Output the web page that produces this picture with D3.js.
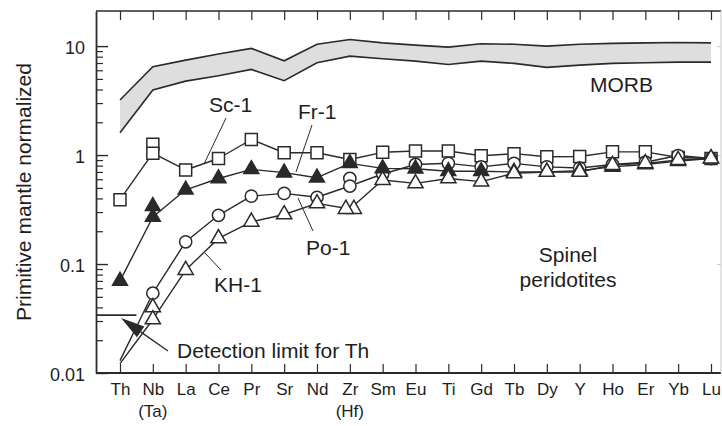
<!DOCTYPE html>
<html>
<head>
<meta charset="utf-8">
<script src="https://cdn.jsdelivr.net/npm/d3@7"></script>
<style>
  body { margin: 0; background: #fff; }
  svg { display: block; font-family: "Liberation Sans", Arial, Helvetica, sans-serif; }
</style>
</head>
<body>
<svg id="chart" width="722" height="426"></svg>
<script>
// Trace elements, ordered by incompatibility
const elements = ["Th", "Nb", "La", "Ce", "Pr", "Sr", "Nd", "Zr", "Sm", "Eu",
                  "Ti", "Gd", "Tb", "Dy", "Y", "Ho", "Er", "Yb", "Lu"];
// Second-row labels for the element pairs plotted in one column
const subLabels = { Nb: "(Ta)", Zr: "(Hf)" };

// MORB field (primitive-mantle normalized), upper and lower bounds
const morbUpper = [3.2, 6.46, 7.44, 8.45, 9.52, 7.33, 10.4, 11.5, 10.7, 10.2,
                   9.79, 10.5, 10.4, 10.0, 10.4, 10.6, 10.7, 10.8, 10.7];
const morbLower = [1.6, 3.95, 4.77, 5.34, 6.11, 4.81, 7.03, 8.09, 7.65, 7.28,
                   6.79, 7.28, 6.94, 6.38, 6.69, 6.94, 7.03, 7.13, 7.13];

// Spinel peridotite samples
const sc1 = [0.39, 1.04, 0.73, 0.93, 1.39, 1.05, 1.05, 0.91, 1.06, 1.09,
             1.09, 0.985, 1.03, 0.964, 0.97, 1.07, 1.07, 0.95, 0.93];
const fr1 = [0.07, 0.27, 0.48, 0.61, 0.74, 0.69, 0.62, 0.84, 0.755, 0.75,
             0.71, 0.71, 0.70, 0.70, 0.72, 0.78, 0.82, 0.88, 0.93];
const po1 = [0.013, 0.054, 0.16, 0.28, 0.42, 0.445, 0.41, 0.52, 0.67, 0.82,
             0.84, 0.78, 0.84, 0.78, 0.76, 0.82, 0.86, 0.99, 0.93];
const kh1 = [0.0122, 0.031, 0.088, 0.172, 0.244, 0.285, 0.36, 0.32, 0.59, 0.55,
             0.61, 0.57, 0.68, 0.70, 0.70, 0.81, 0.84, 0.90, 0.93];

// Ta and Hf values, plotted in the Nb and Zr columns
const sc1Pair = { Nb: 1.26 };
const fr1Pair = { Nb: 0.34 };
const po1Pair = { Zr: 0.61 };
const kh1Pair = { Nb: 0.040, Zr: 0.32 };

// Th below detection limit: line only, no symbol
const belowDetection = { "Po-1": ["Th"], "KH-1": ["Th"] };
const detectionLimitTh = 0.034;

const yMajorTicks = [0.01, 0.1, 1, 10];
const yMajorLabels = ["0.01", "0.1", "1", "10"];

// ---------------------------------------------------------------------------
const svg = d3.select("#chart");
const ink = "#2a2a2a";
const frame = { left: 96, right: 721, top: 11, bottom: 373 };

const x = d3.scalePoint().domain(elements).range([120, 711]);
const y = d3.scaleLog().domain([0.01, 21]).range([frame.bottom, frame.top]);

const samples = [
  { name: "Sc-1", values: sc1, pair: sc1Pair, shape: "square" },
  { name: "Fr-1", values: fr1, pair: fr1Pair, shape: "filledTriangle" },
  { name: "Po-1", values: po1, pair: po1Pair, shape: "circle" },
  { name: "KH-1", values: kh1, pair: kh1Pair, shape: "openTriangle" }
];
// symbol stacking order (bottom to top)
const markerOrder = ["Sc-1", "Po-1", "Fr-1", "KH-1"];
// side-by-side offset where a pair plots at the same level
const pairShift = { "KH-1": { Zr: [-4, 4] } };

// ---- MORB field ----
const morbArea = d3.area()
  .x((d, i) => x(elements[i]))
  .y0((d, i) => y(morbLower[i]))
  .y1((d, i) => y(morbUpper[i]));
svg.append("path").datum(morbUpper).attr("d", morbArea)
  .attr("fill", "#dedede").attr("stroke", "none");
const edge = d3.line().x((d, i) => x(elements[i])).y(d => y(d));
[morbUpper, morbLower].forEach(arr => {
  svg.append("path").datum(arr).attr("d", edge)
    .attr("fill", "none").attr("stroke", ink).attr("stroke-width", 1.6)
    .attr("stroke-linejoin", "miter");
});

// ---- frame & axes ----
svg.append("line").attr("x1", frame.left).attr("x2", frame.right)
  .attr("y1", frame.top).attr("y2", frame.top)
  .attr("stroke", ink).attr("stroke-width", 1.6);
svg.append("line").attr("x1", frame.left).attr("x2", frame.right)
  .attr("y1", frame.bottom).attr("y2", frame.bottom)
  .attr("stroke", ink).attr("stroke-width", 1.8);
svg.append("line").attr("x1", frame.right).attr("x2", frame.right)
  .attr("y1", frame.top).attr("y2", frame.bottom)
  .attr("stroke", "#c8c8c8").attr("stroke-width", 1);

// left axis: inward major and minor ticks
const minorTicks = [];
[0.01, 0.1, 1].forEach(dec => { for (let k = 2; k <= 9; k++) minorTicks.push(dec * k); });

const leftMinor = svg.append("g").attr("transform", `translate(${frame.left},0)`)
  .call(d3.axisLeft(y).tickValues(minorTicks).tickSize(-7).tickSizeOuter(0).tickFormat(""));
leftMinor.select(".domain").remove();
leftMinor.selectAll("line").attr("stroke", ink).attr("stroke-width", 1.2);

const leftMajor = svg.append("g").attr("transform", `translate(${frame.left},0)`)
  .call(d3.axisLeft(y).tickValues(yMajorTicks).tickSize(-12).tickSizeOuter(0)
    .tickPadding(11).tickFormat((d, i) => yMajorLabels[i]));
leftMajor.select(".domain").attr("stroke", ink).attr("stroke-width", 1.8);
leftMajor.selectAll("line").attr("stroke", ink).attr("stroke-width", 1.4);
leftMajor.selectAll("text").attr("font-size", 18).attr("fill", "#1e1e1e")
  .attr("font-family", "Liberation Sans, Arial, sans-serif").attr("dy", "0.42em");

// right axis: faint decade ticks
const rightAx = svg.append("g").attr("transform", `translate(${frame.right},0)`)
  .call(d3.axisRight(y).tickValues([0.1, 1, 10]).tickSize(-4).tickSizeOuter(0).tickFormat(""));
rightAx.select(".domain").remove();
rightAx.selectAll("line").attr("stroke", "#c8c8c8");

// bottom axis with element labels
const bottomAx = svg.append("g").attr("transform", `translate(0,${frame.bottom})`)
  .call(d3.axisBottom(x).tickSize(-9).tickSizeOuter(0).tickPadding(10));
bottomAx.select(".domain").remove();
bottomAx.selectAll("line").attr("stroke", ink).attr("stroke-width", 1.2);
bottomAx.selectAll("text").attr("font-size", 17).attr("fill", "#1e1e1e")
  .attr("font-family", "Liberation Sans, Arial, sans-serif");

svg.append("g").selectAll("text")
  .data(Object.keys(subLabels)).join("text")
  .attr("x", d => x(d)).attr("y", 417)
  .attr("text-anchor", "middle").attr("font-size", 17).attr("fill", "#1e1e1e")
  .text(d => subLabels[d]);

// top axis: downward ticks
const topAx = svg.append("g").attr("transform", `translate(0,${frame.top})`)
  .call(d3.axisTop(x).tickSize(-9).tickSizeOuter(0).tickFormat(""));
topAx.select(".domain").remove();
topAx.selectAll("line").attr("stroke", ink).attr("stroke-width", 1.2);

// y axis title
svg.append("text")
  .attr("transform", "translate(31,192) rotate(-90)")
  .attr("text-anchor", "middle").attr("font-size", 21).attr("fill", "#1e1e1e")
  .text("Primitive mantle normalized");

// ---- sample patterns ----
const line = d3.line().x((d, i) => x(elements[i])).y(d => y(d));
samples.forEach(s => {
  svg.append("path").datum(s.values).attr("d", line)
    .attr("fill", "none").attr("stroke", ink).attr("stroke-width", 1.4)
    .attr("stroke-linejoin", "round");
});

const symbolFor = {
  square: d3.symbol(d3.symbolSquare, 144)(),
  circle: d3.symbol(d3.symbolCircle, 118)(),
  filledTriangle: d3.symbol(d3.symbolTriangle, 96)(),
  openTriangle: d3.symbol(d3.symbolTriangle, 100)()
};

markerOrder.forEach(name => {
  const s = samples.find(d => d.name === name);
  const skip = belowDetection[name] || [];
  const pts = [];
  s.values.forEach((v, i) => {
    const el = elements[i];
    if (skip.includes(el)) return;
    const sh = (pairShift[name] && pairShift[name][el]) || [0, 0];
    if (s.pair[el] !== undefined) {
      pts.push({ el, v: s.pair[el], dx: sh[1] });
    }
    pts.push({ el, v, dx: sh[0] });
  });
  svg.append("g").selectAll("path").data(pts).join("path")
    .attr("d", symbolFor[s.shape])
    .attr("transform", d => `translate(${x(d.el) + d.dx},${y(d.v)})`)
    .attr("fill", s.shape === "filledTriangle" ? ink : "#fff")
    .attr("stroke", ink).attr("stroke-width", 1.5)
    .attr("stroke-linejoin", "miter");
});

// ---- annotations ----
const note = (txt, xx, yy, anchor = "start") =>
  svg.append("text").attr("x", xx).attr("y", yy).attr("text-anchor", anchor)
    .attr("font-size", 21).attr("fill", "#1e1e1e").text(txt);
const leader = (x1, y1, x2, y2) =>
  svg.append("line").attr("x1", x1).attr("y1", y1).attr("x2", x2).attr("y2", y2)
    .attr("stroke", ink).attr("stroke-width", 1);

note("Sc-1", 209, 112);
leader(226, 118, 204, 164);
note("Fr-1", 298, 119);
leader(312, 125, 296, 172);
note("Po-1", 306, 255);
leader(313, 231, 298, 198);
note("KH-1", 214, 292);
leader(221, 270, 205, 253);
note("MORB", 590, 92);
note("Spinel", 568, 262, "middle");
note("peridotites", 568, 287, "middle");

// detection limit for Th
const yDet = y(detectionLimitTh);
svg.append("line").attr("x1", frame.left).attr("x2", (x("Th") + x("Nb")) / 2)
  .attr("y1", yDet).attr("y2", yDet).attr("stroke", ink).attr("stroke-width", 1.8);
note("Detection limit for Th", 177, 358);
{
  const tip = [x("Th") + 1, yDet + 3];
  const tail = [168, 351];
  const dx = tail[0] - tip[0], dy = tail[1] - tip[1];
  const len = Math.hypot(dx, dy);
  const ux = dx / len, uy = dy / len;
  const headLen = 24, halfW = 6.5;
  const bx = tip[0] + ux * headLen, by = tip[1] + uy * headLen;
  svg.append("line").attr("x1", tail[0]).attr("y1", tail[1]).attr("x2", bx).attr("y2", by)
    .attr("stroke", ink).attr("stroke-width", 1.4);
  svg.append("path")
    .attr("d", `M${tip[0]},${tip[1]}L${bx - uy * halfW},${by + ux * halfW}L${bx + uy * halfW},${by - ux * halfW}Z`)
    .attr("fill", ink);
}
</script>
</body>
</html>
